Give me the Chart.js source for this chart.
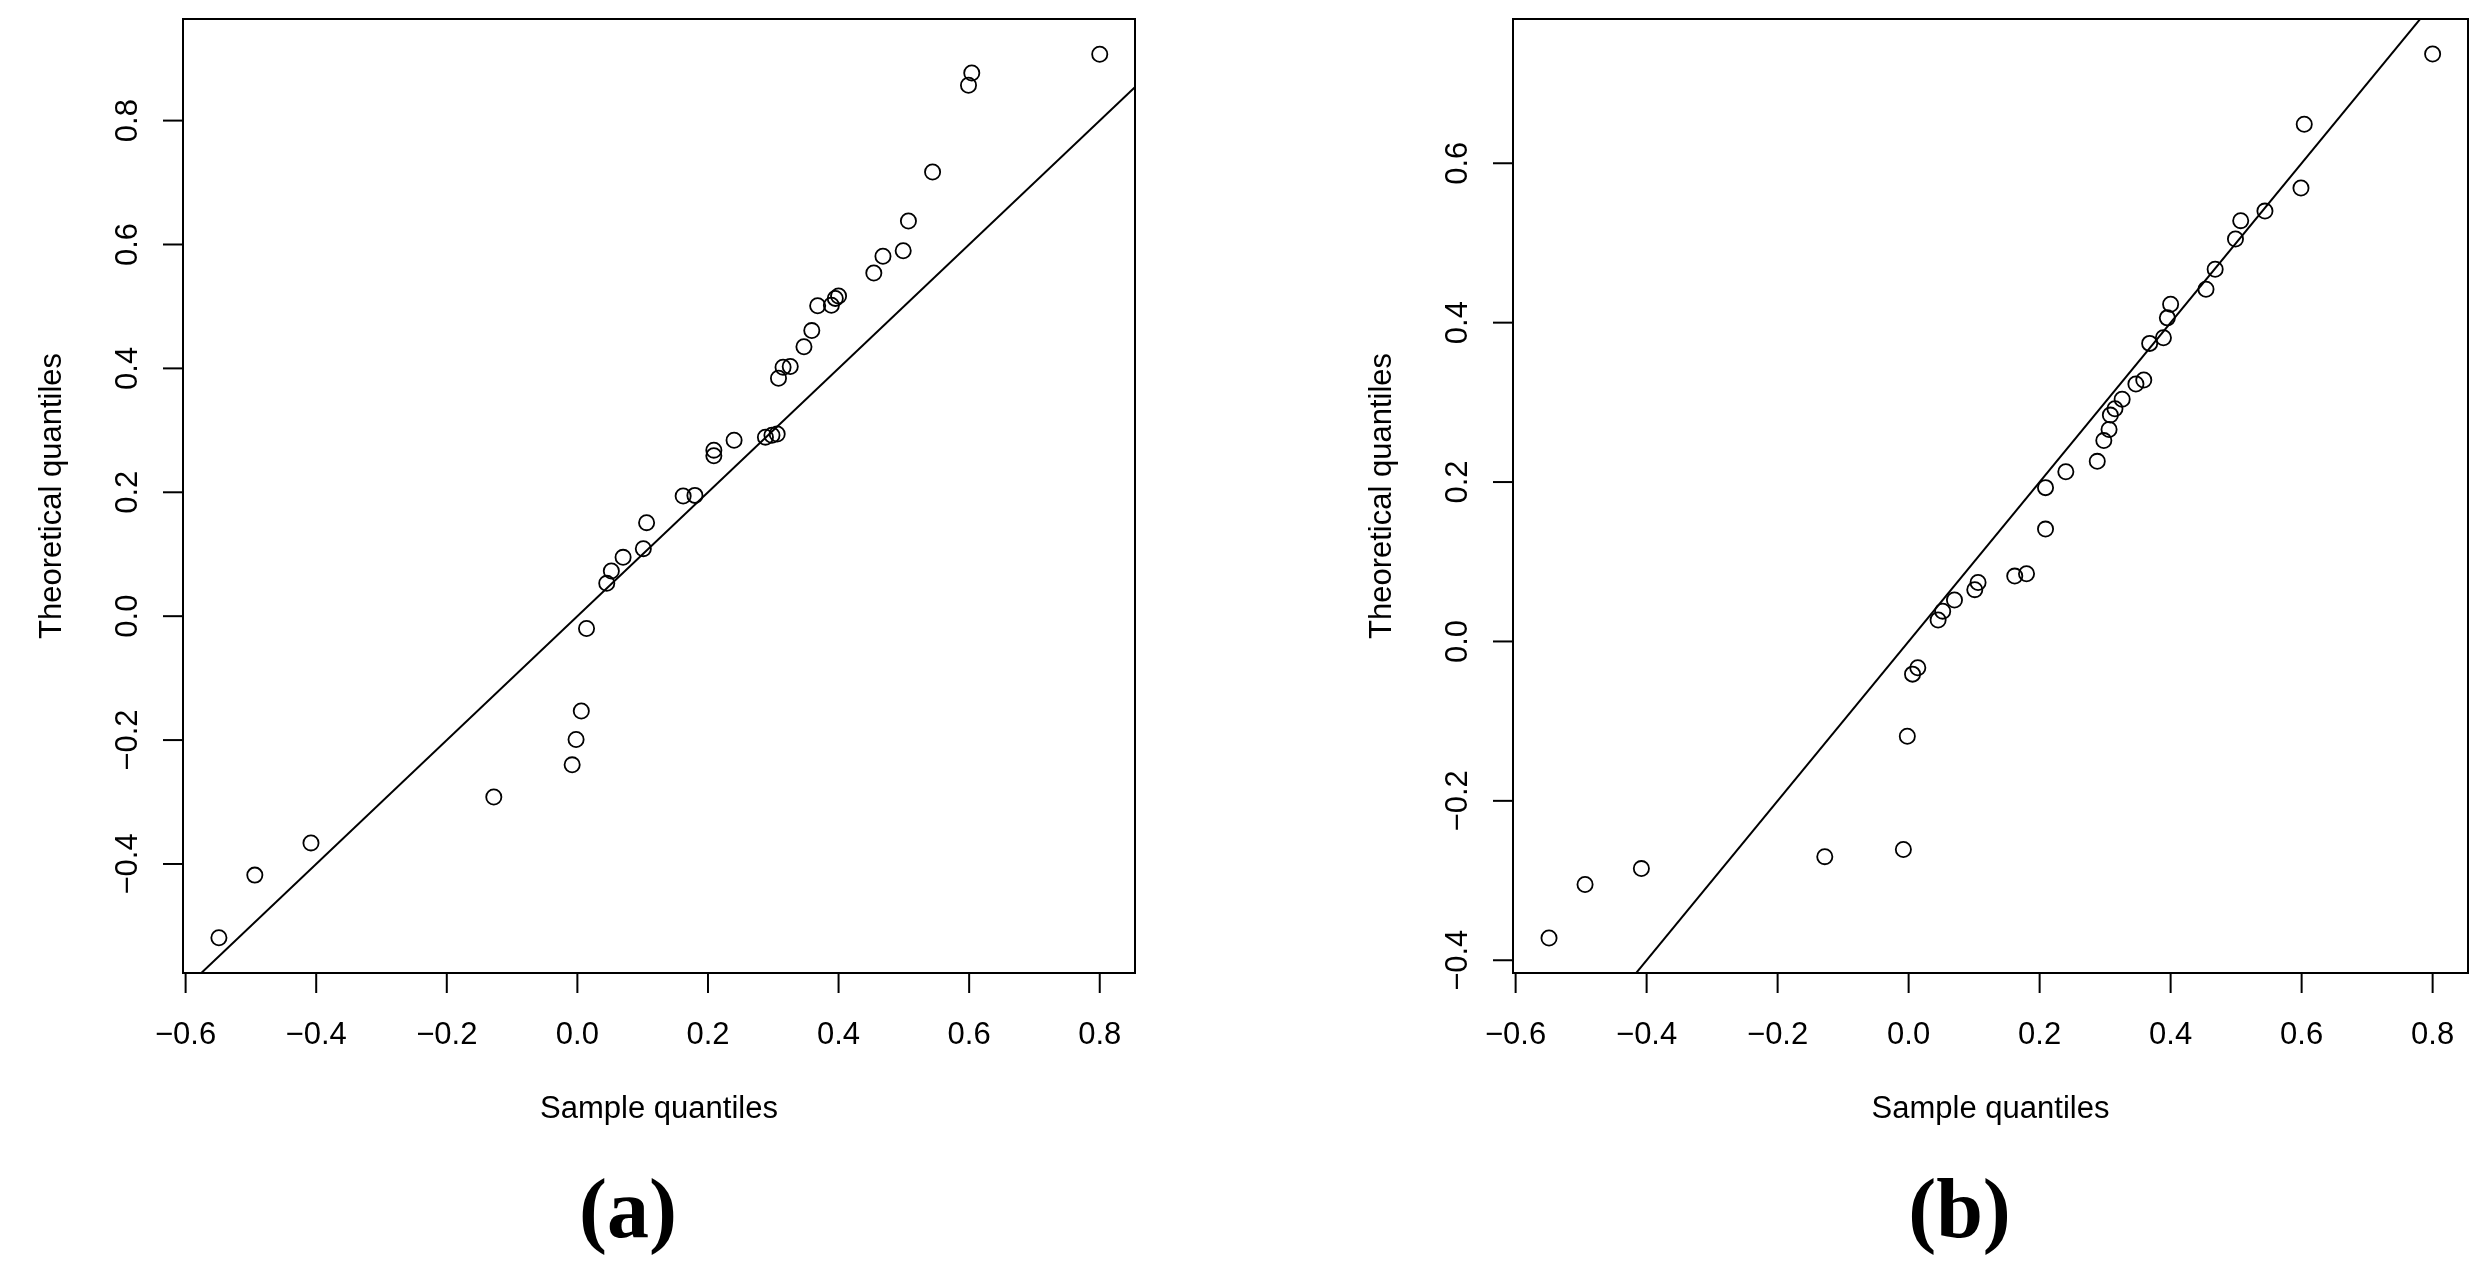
<!DOCTYPE html>
<html>
<head>
<meta charset="utf-8">
<title>Q-Q plots</title>
<script src="https://cdn.jsdelivr.net/npm/chart.js@4.4.1/dist/chart.umd.min.js"></script>
<style>
  html, body { margin: 0; padding: 0; background: #fff; }
  #wrap { position: relative; width: 2487px; height: 1281px; }
  canvas { position: absolute; top: 0; }
</style>
</head>
<body>
<div id="wrap">
  <canvas id="qqA" width="1243" height="1281" style="left:0"></canvas>
  <canvas id="qqB" width="1244" height="1281" style="left:1243px"></canvas>
</div>
<script>
// sample quantiles (x), same for both panels
const sampleQuantiles = [
  -0.549, -0.494, -0.408, -0.128, -0.008, -0.002, 0.006, 0.014,
  0.045, 0.052, 0.070, 0.101, 0.106, 0.162, 0.180, 0.209, 0.209,
  0.240, 0.288, 0.298, 0.306, 0.308, 0.315, 0.326, 0.347, 0.359,
  0.368, 0.389, 0.395, 0.400, 0.454, 0.468, 0.499, 0.507, 0.544,
  0.599, 0.604, 0.800
];

// theoretical quantiles (y), panel (a)
const theoreticalA = [
  -0.519, -0.418, -0.366, -0.292, -0.240, -0.199, -0.153, -0.020,
  0.053, 0.073, 0.095, 0.109, 0.151, 0.194, 0.195, 0.259, 0.268,
  0.284, 0.289, 0.292, 0.294, 0.384, 0.402, 0.403, 0.435, 0.461,
  0.501, 0.502, 0.513, 0.517, 0.554, 0.581, 0.590, 0.638, 0.717,
  0.857, 0.877, 0.907
];

// theoretical quantiles (y), panel (b)
const theoreticalB = [
  -0.372, -0.305, -0.285, -0.270, -0.261, -0.119, -0.041, -0.033,
  0.027, 0.038, 0.052, 0.065, 0.074, 0.082, 0.085, 0.141, 0.193,
  0.213, 0.226, 0.252, 0.266, 0.284, 0.292, 0.304, 0.323, 0.328,
  0.374, 0.381, 0.406, 0.423, 0.442, 0.467, 0.505, 0.528, 0.540,
  0.569, 0.649, 0.737
];

const xTicks = [-0.6, -0.4, -0.2, 0.0, 0.2, 0.4, 0.6, 0.8];
const yTicksA = [-0.4, -0.2, 0.0, 0.2, 0.4, 0.6, 0.8];
const yTicksB = [-0.4, -0.2, 0.0, 0.2, 0.4, 0.6];
const refLine = [-1, 1]; // y = x reference line

const FONT = '"Liberation Sans", Arial, Helvetica, sans-serif';

function fmt(v) {
  const s = Math.abs(v).toFixed(1);
  return v < -1e-9 ? '\u2212' + s : s;
}

// R-like frame, outward ticks, rotated y labels, titles and panel tag
const rAxes = {
  id: 'rAxes',
  afterDraw(chart, args, opts) {
    const { ctx, chartArea: a, scales: { x, y } } = chart;
    ctx.save();
    ctx.strokeStyle = '#000';
    ctx.fillStyle = '#000';
    ctx.lineWidth = 2;
    ctx.strokeRect(a.left, a.top, a.right - a.left, a.bottom - a.top);

    ctx.font = '31px ' + FONT;
    ctx.textAlign = 'center';
    ctx.textBaseline = 'alphabetic';

    // x axis
    opts.xTicks.forEach(v => {
      const px = x.getPixelForValue(v);
      ctx.beginPath();
      ctx.moveTo(px, a.bottom);
      ctx.lineTo(px, a.bottom + 20);
      ctx.stroke();
      ctx.fillText(fmt(v), px, a.bottom + 71);
    });
    ctx.fillText('Sample quantiles', (a.left + a.right) / 2, a.bottom + 145);

    // y axis
    opts.yTicks.forEach(v => {
      const py = y.getPixelForValue(v);
      ctx.beginPath();
      ctx.moveTo(a.left - 20, py);
      ctx.lineTo(a.left, py);
      ctx.stroke();
      ctx.save();
      ctx.translate(a.left - 46, py);
      ctx.rotate(-Math.PI / 2);
      ctx.fillText(fmt(v), 0, 0);
      ctx.restore();
    });
    ctx.save();
    ctx.translate(a.left - 122, (a.top + a.bottom) / 2);
    ctx.rotate(-Math.PI / 2);
    ctx.fillText('Theoretical quantiles', 0, 0);
    ctx.restore();

    // panel tag
    ctx.font = 'bold 84px "Liberation Serif", "Times New Roman", serif';
    ctx.fillText(opts.tag, (a.left + a.right) / 2 - 31, a.bottom + 264);
    ctx.restore();
  }
};

function makeQQ(id, yValues, yMin, yMax, yTicks, tag, padding) {
  const pts = sampleQuantiles.map((v, i) => ({ x: v, y: yValues[i] }));
  const line = refLine.map(v => ({ x: v, y: v }));
  return new Chart(document.getElementById(id), {
    type: 'scatter',
    data: {
      datasets: [
        {
          data: pts,
          pointStyle: 'circle',
          pointRadius: 7.6,
          borderWidth: 1.8,
          borderColor: '#000',
          backgroundColor: 'rgba(0,0,0,0)'
        },
        {
          type: 'line',
          data: line,
          borderColor: '#000',
          borderWidth: 2,
          pointRadius: 0,
          fill: false,
          clip: 0
        }
      ]
    },
    options: {
      responsive: false,
      animation: false,
      devicePixelRatio: 1,
      events: [],
      layout: { padding: padding },
      plugins: {
        legend: { display: false },
        tooltip: { enabled: false },
        rAxes: { xTicks: xTicks, yTicks: yTicks, tag: tag }
      },
      scales: {
        x: { type: 'linear', min: -0.604, max: 0.854, display: false },
        y: { type: 'linear', min: yMin, max: yMax, display: false }
      }
    },
    plugins: [rAxes]
  });
}

document.addEventListener('DOMContentLoaded', function () {
  makeQQ('qqA', theoreticalA, -0.576, 0.964, yTicksA, '(a)',
    { left: 183, top: 19, right: 108, bottom: 308 });
  makeQQ('qqB', theoreticalB, -0.416, 0.781, yTicksB, '(b)',
    { left: 270, top: 19, right: 19, bottom: 308 });
});
</script>
</body>
</html>
